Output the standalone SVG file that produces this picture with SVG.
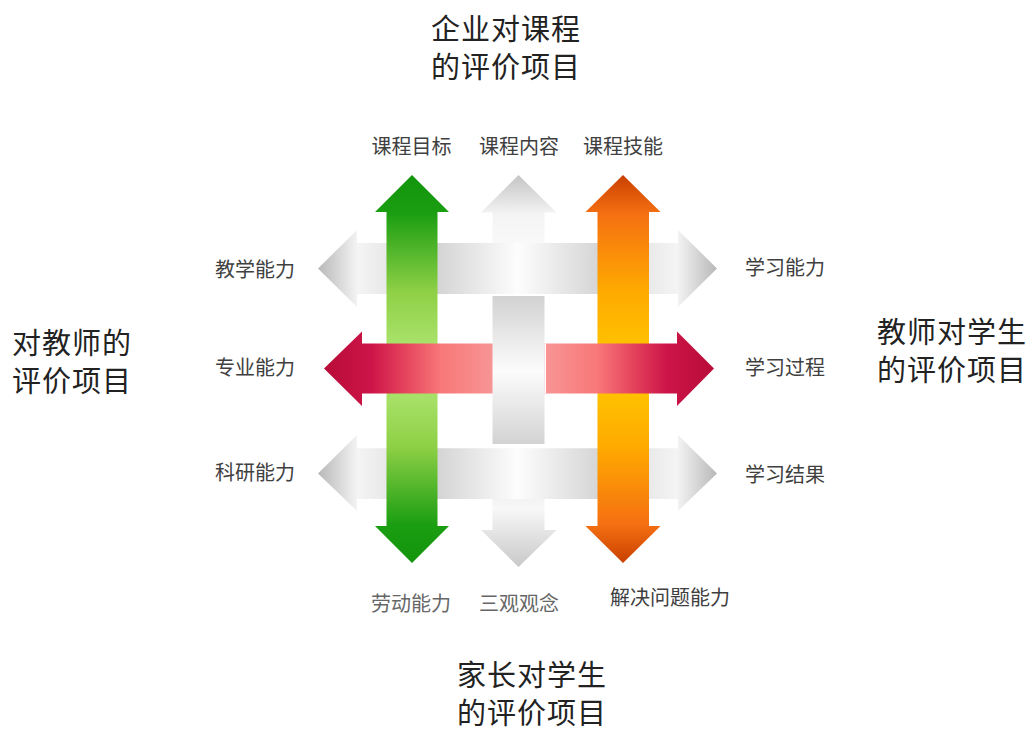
<svg xmlns="http://www.w3.org/2000/svg" width="1033" height="731" viewBox="0 0 1033 731">
<style>
  text { font-family: "Noto Sans CJK SC", "Noto Sans", sans-serif; }
  .title { font-size: 29px; letter-spacing: 1px; fill: #222; }
  .lab { font-size: 20px; fill: #404040; }
  .lab2 { font-size: 20px; fill: #666; }
  .mid { text-anchor: middle; }
</style>
<defs>
  <linearGradient id="gGreen" gradientUnits="userSpaceOnUse" x1="0" y1="175" x2="0" y2="563">
    <stop offset="0" stop-color="#12940c"/>
    <stop offset="0.1" stop-color="#1c9e12"/>
    <stop offset="0.3" stop-color="#8ed046"/>
    <stop offset="0.5" stop-color="#b6ea7a"/>
    <stop offset="0.7" stop-color="#8ed046"/>
    <stop offset="0.9" stop-color="#1c9e12"/>
    <stop offset="1" stop-color="#12940c"/>
  </linearGradient>
  <linearGradient id="gOrange" gradientUnits="userSpaceOnUse" x1="0" y1="175" x2="0" y2="563">
    <stop offset="0" stop-color="#c84000"/>
    <stop offset="0.1" stop-color="#f57012"/>
    <stop offset="0.3" stop-color="#ffaa00"/>
    <stop offset="0.5" stop-color="#ffcc00"/>
    <stop offset="0.7" stop-color="#ffaa00"/>
    <stop offset="0.9" stop-color="#f57012"/>
    <stop offset="1" stop-color="#c84000"/>
  </linearGradient>
  <linearGradient id="gRed" gradientUnits="userSpaceOnUse" x1="324" y1="0" x2="714" y2="0">
    <stop offset="0" stop-color="#b80c38"/>
    <stop offset="0.12" stop-color="#cc1448"/>
    <stop offset="0.22" stop-color="#e84a60"/>
    <stop offset="0.3" stop-color="#f87878"/>
    <stop offset="0.43" stop-color="#f89494"/>
    <stop offset="0.5" stop-color="#f8a0a0"/>
    <stop offset="0.57" stop-color="#f89494"/>
    <stop offset="0.7" stop-color="#f87878"/>
    <stop offset="0.78" stop-color="#e84a60"/>
    <stop offset="0.88" stop-color="#cc1448"/>
    <stop offset="1" stop-color="#b80c38"/>
  </linearGradient>
  <linearGradient id="gGrayH" gradientUnits="userSpaceOnUse" x1="318" y1="0" x2="717" y2="0">
    <stop offset="0" stop-color="#b8b8b8"/>
    <stop offset="0.1" stop-color="#f4f4f4"/>
    <stop offset="0.3" stop-color="#d4d4d4"/>
    <stop offset="0.5" stop-color="#fdfdfd"/>
    <stop offset="0.7" stop-color="#d6d6d6"/>
    <stop offset="0.9" stop-color="#f4f4f4"/>
    <stop offset="1" stop-color="#b8b8b8"/>
  </linearGradient>
  <linearGradient id="gGrayV" gradientUnits="userSpaceOnUse" x1="0" y1="175" x2="0" y2="567">
    <stop offset="0" stop-color="#c4c4c4"/>
    <stop offset="0.1" stop-color="#f4f4f4"/>
    <stop offset="0.2" stop-color="#fafafa"/>
    <stop offset="0.31" stop-color="#d2d2d2"/>
    <stop offset="0.5" stop-color="#fcfcfc"/>
    <stop offset="0.69" stop-color="#d2d2d2"/>
    <stop offset="0.85" stop-color="#f8f8f8"/>
    <stop offset="1" stop-color="#c8c8c8"/>
  </linearGradient>
</defs>

<g id="connectors">
  <g id="gray-vertical-ends">
    <path d="M518.5,175 L556.5,212.5 L544.5,212.5 L544.5,244 L492.5,244 L492.5,212.5 L481,212.5 Z" fill="url(#gGrayV)"/>
    <path d="M492.5,498 L544.5,498 L544.5,530 L556.5,530 L518.5,567 L481,530 L492.5,530 Z" fill="url(#gGrayV)"/>
  </g>
  <g id="gray-horizontal-top">
    <path d="M318,268.5 L357,230 L357,243 L678,243 L678,230 L717,268.5 L678,307 L678,294 L357,294 L357,307 Z" fill="url(#gGrayH)"/>
  </g>
  <g id="gray-horizontal-bottom">
    <path d="M318,473.5 L357,435 L357,448.3 L678,448.3 L678,435 L717,473.5 L678,511 L678,499 L357,499 L357,511 Z" fill="url(#gGrayH)"/>
  </g>
  <g id="green-vertical">
    <path d="M412,175 L449,212 L437.5,212 L437.5,526 L449,526 L412,563 L375,526 L386.5,526 L386.5,212 L375,212 Z" fill="url(#gGreen)"/>
  </g>
  <g id="orange-vertical">
    <path d="M623,175 L660.5,212 L649,212 L649,526 L660.5,526 L623,563 L585.5,526 L597.5,526 L597.5,212 L585.5,212 Z" fill="url(#gOrange)"/>
  </g>
  <g id="red-horizontal">
    <path d="M324,368.5 L362,331.5 L362,343.5 L677,343.5 L677,331.5 L714,368.5 L677,406 L677,393.5 L362,393.5 L362,406 Z" fill="url(#gRed)"/>
  </g>
  <g id="gray-vertical-middle">
    <rect x="492.5" y="294" width="52" height="2" fill="#fff"/>
    <rect x="492.5" y="296" width="52" height="148" fill="url(#gGrayV)"/>
    <rect x="544.5" y="343.5" width="1.5" height="50" fill="#fff"/>
  </g>
</g>

<g id="title-top">
  <text class="title mid" x="506" y="40">企业对课程</text>
  <text class="title mid" x="506" y="78">的评价项目</text>
</g>
<g id="title-left">
  <text class="title" x="12" y="354">对教师的</text>
  <text class="title" x="12" y="392">评价项目</text>
</g>
<g id="title-right">
  <text class="title" x="877" y="343">教师对学生</text>
  <text class="title" x="877" y="381">的评价项目</text>
</g>
<g id="title-bottom">
  <text class="title mid" x="532" y="686">家长对学生</text>
  <text class="title mid" x="532" y="724">的评价项目</text>
</g>

<g id="labels-top">
  <text class="lab mid" x="411.5" y="154">课程目标</text>
  <text class="lab mid" x="519" y="154">课程内容</text>
  <text class="lab mid" x="623" y="154">课程技能</text>
</g>
<g id="labels-left">
  <text class="lab" x="215" y="277">教学能力</text>
  <text class="lab" x="215" y="375">专业能力</text>
  <text class="lab" x="215" y="480">科研能力</text>
</g>
<g id="labels-right">
  <text class="lab" x="745" y="275">学习能力</text>
  <text class="lab" x="745" y="375">学习过程</text>
  <text class="lab" x="745" y="482">学习结果</text>
</g>
<g id="labels-bottom">
  <text class="lab2 mid" x="411" y="611">劳动能力</text>
  <text class="lab2 mid" x="519" y="611">三观观念</text>
  <text class="lab" x="610" y="605">解决问题能力</text>
</g>
</svg>
